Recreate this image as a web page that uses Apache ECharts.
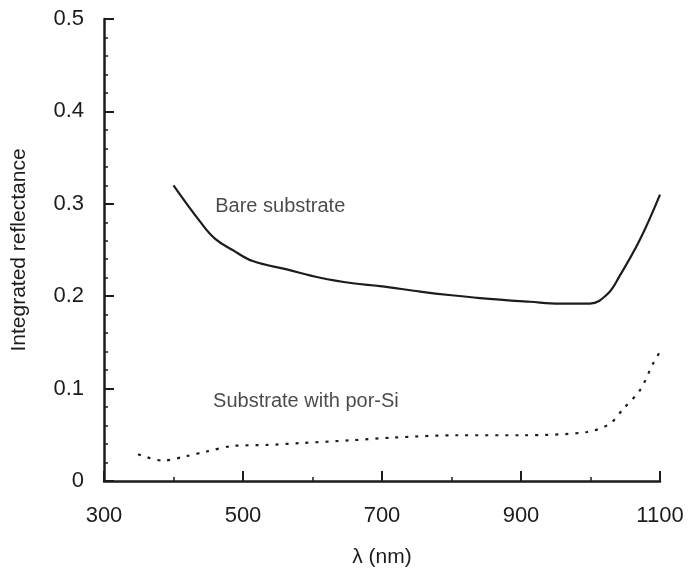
<!DOCTYPE html>
<html>
<head>
<meta charset="utf-8">
<script src="https://cdn.jsdelivr.net/npm/echarts@6/dist/echarts.min.js"></script>
<style>
  html, body { margin: 0; padding: 0; background: #fff; }
  #chart { width: 688px; height: 573px; }
</style>
</head>
<body>
<div id="chart"></div>
<script>
// wavelength (nm) / integrated reflectance
var bareX = [400, 438, 460, 485, 514, 563, 611, 658, 697, 755, 800, 841, 913, 956, 999, 1024, 1042, 1071, 1100];
var bareY = [0.320, 0.281, 0.262, 0.250, 0.238, 0.229, 0.220, 0.214, 0.211, 0.205, 0.201, 0.198, 0.194, 0.192, 0.192, 0.202, 0.222, 0.261, 0.310];

var porX = [349, 385, 419, 448, 486, 534, 582, 654, 716, 808, 903, 995, 1028, 1047, 1071, 1090, 1100];
var porY = [0.029, 0.022, 0.027, 0.032, 0.038, 0.039, 0.041, 0.044, 0.047, 0.0495, 0.0495, 0.053, 0.062, 0.078, 0.098, 0.127, 0.140];

var labelNames = ["Bare substrate", "Substrate with por-Si"];
var labelX = [460, 457];
var labelY = [0.297, 0.086];

var ink = "#1c1c1c";
var font = "Liberation Sans";

function pairs(xs, ys) {
  return xs.map(function (x, i) { return [x, ys[i]]; });
}

var myChart = echarts.init(document.getElementById("chart"));
var option = {
  backgroundColor: "#fff",
  animation: false,
  grid: { left: 104, right: 28, top: 19, bottom: 90 },
  xAxis: {
    type: "value",
    min: 300,
    max: 1100,
    interval: 200,
    name: "λ (nm)",
    nameLocation: "middle",
    nameGap: 66,
    nameTextStyle: { color: ink, fontSize: 21, fontFamily: font },
    axisLine: { lineStyle: { color: ink, width: 2.5 } },
    axisTick: { inside: true, length: 10, lineStyle: { color: ink, width: 2 } },
    minorTick: { show: true, splitNumber: 2, length: 4, lineStyle: { color: ink, width: 1.5 } },
    axisLabel: {
      color: ink, fontSize: 22, fontFamily: font, margin: 24,
      formatter: function (v) { return String(v); }
    },
    splitLine: { show: false }
  },
  yAxis: {
    type: "value",
    min: 0,
    max: 0.5,
    interval: 0.1,
    name: "Integrated reflectance",
    nameLocation: "middle",
    nameGap: 74,
    nameTextStyle: { color: ink, fontSize: 21, fontFamily: font },
    axisLine: { show: true, lineStyle: { color: ink, width: 2.5 } },
    axisTick: { show: true, inside: true, length: 10, lineStyle: { color: ink, width: 2 } },
    minorTick: { show: true, splitNumber: 5, length: 4, lineStyle: { color: ink, width: 1.5 } },
    axisLabel: {
      color: ink, fontSize: 22, fontFamily: font, margin: 20,
      formatter: function (v) { return v === 0 ? "0" : v.toFixed(1); }
    },
    splitLine: { show: false }
  },
  series: [
    {
      name: "Bare substrate",
      type: "line",
      data: pairs(bareX, bareY),
      smooth: 0.4,
      showSymbol: false,
      lineStyle: { color: ink, width: 2.2 }
    },
    {
      name: "Substrate with por-Si",
      type: "line",
      data: pairs(porX, porY),
      smooth: 0.3,
      showSymbol: false,
      lineStyle: { color: ink, width: 2.2, type: [3, 7] }
    },
    {
      type: "scatter",
      symbolSize: 0,
      data: labelNames.map(function (n, i) { return { name: n, value: [labelX[i], labelY[i]] }; }),
      label: {
        show: true,
        position: "right",
        distance: 0,
        formatter: "{b}",
        color: ink,
        fontSize: 20,
        fontFamily: font
      }
    }
  ]
};
option && myChart.setOption(option);
</script>
</body>
</html>
